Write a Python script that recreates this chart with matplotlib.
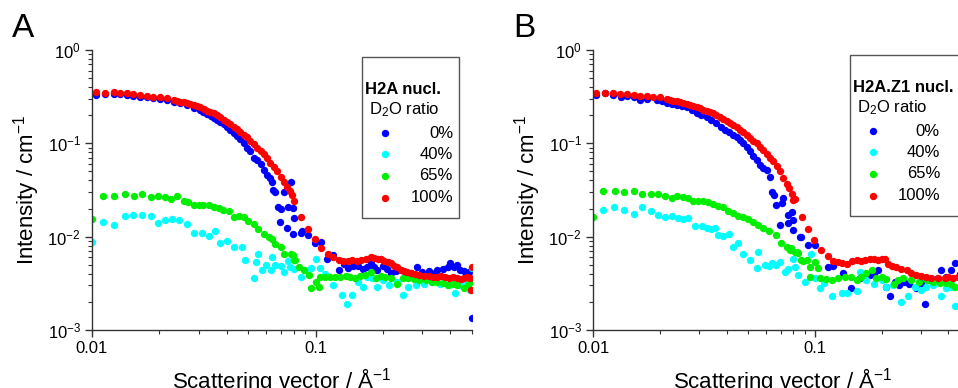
import numpy as np
import matplotlib
matplotlib.use('Agg')
import matplotlib.pyplot as plt
from matplotlib.patches import Rectangle
from matplotlib.ticker import FixedLocator, NullFormatter

plt.rcParams['font.family'] = ['Liberation Sans', 'DejaVu Sans']
plt.rcParams['mathtext.fontset'] = 'custom'
plt.rcParams['mathtext.rm'] = 'Liberation Sans'
plt.rcParams['mathtext.it'] = 'Liberation Sans:italic'
plt.rcParams['mathtext.bf'] = 'Liberation Sans:bold'

# ---- panel A : H2A nucleosome ----
qa_0 = [0.0104, 0.0114, 0.0125, 0.0134, 0.0144, 0.0153, 0.0164, 0.0176, 0.0188, 0.0202, 0.0216, 0.0232, 0.0248, 0.0266,
        0.0285, 0.0305, 0.0315, 0.0327, 0.0340, 0.0350, 0.0362, 0.0375, 0.0388, 0.0401, 0.0415, 0.0430, 0.0446, 0.0460,
        0.0476, 0.0494, 0.0510, 0.0529, 0.0548, 0.0567, 0.0585, 0.0607, 0.0625, 0.0640, 0.0645, 0.0660, 0.0680, 0.0690,
        0.0700, 0.0720, 0.0746, 0.0750, 0.0775, 0.0790, 0.0790, 0.0800, 0.0860, 0.0870, 0.0920, 0.0990, 0.1060, 0.1120,
        0.1200, 0.1270, 0.1340, 0.1400, 0.1470, 0.1540, 0.1620, 0.1700, 0.1760, 0.1830, 0.1890, 0.2000, 0.2080, 0.2170,
        0.2280, 0.2400, 0.2530, 0.2670, 0.2850, 0.3000, 0.3200, 0.3400, 0.3500, 0.3700, 0.3900, 0.4000, 0.4150, 0.4300,
        0.4400, 0.4600, 0.4700, 0.4850, 0.5000]
ia_0 = [0.329, 0.338, 0.338, 0.335, 0.333, 0.318, 0.313, 0.311, 0.305, 0.298, 0.290, 0.280, 0.268, 0.255,
        0.240, 0.225, 0.215, 0.205, 0.195, 0.188, 0.178, 0.170, 0.160, 0.148, 0.140, 0.130, 0.121, 0.112,
        0.100, 0.090, 0.082, 0.070, 0.066, 0.060, 0.052, 0.046, 0.042, 0.039, 0.032, 0.030, 0.021, 0.0142,
        0.020, 0.030, 0.0123, 0.021, 0.039, 0.0108, 0.0205, 0.016, 0.011, 0.0114, 0.0104, 0.0085, 0.0088, 0.0057,
        0.0064, 0.0044, 0.0051, 0.0046, 0.0049, 0.0049, 0.0045, 0.0047, 0.0052, 0.0047, 0.0044, 0.0049, 0.0045, 0.0041,
        0.0043, 0.0044, 0.0040, 0.0041, 0.0047, 0.0042, 0.0043, 0.0041, 0.0044, 0.0045, 0.0047, 0.0052, 0.0047, 0.0050,
        0.0044, 0.0043, 0.0039, 0.0042, 0.00133]

qa_40 = [0.0100, 0.0112, 0.0125, 0.0140, 0.0153, 0.0168, 0.0183, 0.0198, 0.0212, 0.0228, 0.0244, 0.0266, 0.0285, 0.0310,
         0.0332, 0.0356, 0.0375, 0.0400, 0.0430, 0.0468, 0.0485, 0.0530, 0.0540, 0.0555, 0.0576, 0.0600, 0.0630, 0.0640,
         0.0660, 0.0700, 0.0720, 0.0750, 0.0770, 0.0800, 0.0860, 0.0900, 0.0950, 0.1000, 0.1050, 0.1100, 0.1190, 0.1310,
         0.1380, 0.1460, 0.1550, 0.1620, 0.1700, 0.1780, 0.1890, 0.2000, 0.2130, 0.2300, 0.2450, 0.2600, 0.2800, 0.3050,
         0.3300, 0.3600, 0.3900, 0.4200, 0.4400, 0.4600, 0.4900, 0.5000]
ia_40 = [0.0088, 0.0144, 0.0132, 0.0165, 0.0170, 0.0172, 0.0167, 0.0139, 0.0151, 0.0153, 0.0151, 0.0136, 0.0110, 0.0110,
         0.0102, 0.0114, 0.0085, 0.0090, 0.0078, 0.0078, 0.0056, 0.0036, 0.0054, 0.0066, 0.0044, 0.0050, 0.0044, 0.0061,
         0.0050, 0.0048, 0.0042, 0.0055, 0.0047, 0.0045, 0.0037, 0.0044, 0.0046, 0.0058, 0.0046, 0.0040, 0.0030, 0.0024,
         0.0019, 0.0024, 0.0033, 0.0029, 0.0037, 0.0036, 0.0029, 0.0034, 0.0030, 0.0033, 0.0024, 0.0029, 0.0030, 0.0031,
         0.0033, 0.0031, 0.0030, 0.0025, 0.0030, 0.0031, 0.0027, 0.0046]

qa_65 = [0.0100, 0.0112, 0.0125, 0.0140, 0.0154, 0.0168, 0.0183, 0.0198, 0.0212, 0.0226, 0.0241, 0.0257, 0.0270, 0.0285,
         0.0300, 0.0315, 0.0332, 0.0350, 0.0368, 0.0387, 0.0408, 0.0430, 0.0452, 0.0476, 0.0500, 0.0529, 0.0555, 0.0585,
         0.0616, 0.0640, 0.0660, 0.0697, 0.0720, 0.0775, 0.0790, 0.0800, 0.0810, 0.0840, 0.0885, 0.0930, 0.0950, 0.1000,
         0.1030, 0.1050, 0.1100, 0.1160, 0.1220, 0.1290, 0.1360, 0.1430, 0.1500, 0.1580, 0.1660, 0.1760, 0.1860, 0.1950,
         0.2050, 0.2170, 0.2300, 0.2450, 0.2600, 0.2750, 0.2900, 0.3100, 0.3300, 0.3500, 0.3700, 0.3900, 0.4100, 0.4300,
         0.4600, 0.4800, 0.4900]
ia_65 = [0.0153, 0.0275, 0.0270, 0.0290, 0.0275, 0.0290, 0.0265, 0.0275, 0.0265, 0.0253, 0.0270, 0.0243, 0.0237, 0.0216,
         0.0220, 0.0220, 0.0216, 0.0207, 0.0205, 0.0193, 0.0187, 0.0164, 0.0166, 0.0162, 0.0149, 0.0137, 0.0122, 0.0108,
         0.0100, 0.0094, 0.0083, 0.0078, 0.0066, 0.0065, 0.0064, 0.0056, 0.0056, 0.0047, 0.0044, 0.0039, 0.0028, 0.0033,
         0.0029, 0.0037, 0.0037, 0.0037, 0.0037, 0.0037, 0.0038, 0.0037, 0.0036, 0.0038, 0.0039, 0.0042, 0.0036, 0.0038,
         0.0037, 0.0036, 0.0031, 0.0036, 0.0036, 0.0035, 0.0034, 0.0034, 0.0033, 0.0033, 0.0032, 0.0030, 0.0031, 0.0030,
         0.0028, 0.0030, 0.0033]

qa_100 = [0.0104, 0.0114, 0.0125, 0.0134, 0.0144, 0.0153, 0.0164, 0.0176, 0.0188, 0.0202, 0.0216, 0.0232, 0.0240, 0.0248,
          0.0257, 0.0266, 0.0275, 0.0285, 0.0295, 0.0305, 0.0316, 0.0327, 0.0338, 0.0350, 0.0362, 0.0375, 0.0388, 0.0401,
          0.0415, 0.0430, 0.0445, 0.0460, 0.0477, 0.0494, 0.0511, 0.0529, 0.0548, 0.0567, 0.0587, 0.0607, 0.0628, 0.0650,
          0.0673, 0.0697, 0.0720, 0.0746, 0.0765, 0.0787, 0.0800, 0.0862, 0.0920, 0.0990, 0.1060, 0.1130, 0.1200, 0.1270,
          0.1330, 0.1400, 0.1460, 0.1530, 0.1600, 0.1680, 0.1760, 0.1830, 0.1900, 0.1950, 0.2030, 0.2100, 0.2170, 0.2240,
          0.2320, 0.2400, 0.2480, 0.2570, 0.2670, 0.2770, 0.2900, 0.3050, 0.3200, 0.3350, 0.3500, 0.3650, 0.3800, 0.3950,
          0.4100, 0.4300, 0.4450, 0.4600, 0.4750, 0.4900, 0.4950, 0.5000]
ia_100 = [0.357, 0.348, 0.352, 0.343, 0.343, 0.335, 0.327, 0.322, 0.316, 0.311, 0.304, 0.291, 0.285, 0.280,
          0.276, 0.272, 0.265, 0.257, 0.250, 0.243, 0.234, 0.224, 0.217, 0.210, 0.200, 0.190, 0.180, 0.170,
          0.160, 0.150, 0.141, 0.133, 0.124, 0.116, 0.107, 0.098, 0.090, 0.083, 0.076, 0.069, 0.062, 0.056,
          0.050, 0.044, 0.039, 0.034, 0.031, 0.028, 0.024, 0.0164, 0.0122, 0.0094, 0.0075, 0.0065, 0.0060, 0.0056,
          0.0055, 0.0055, 0.0056, 0.0055, 0.0056, 0.0058, 0.0060, 0.0059, 0.0058, 0.0057, 0.0055, 0.0053, 0.0052, 0.0049,
          0.0047, 0.0044, 0.0043, 0.0042, 0.0041, 0.0040, 0.0039, 0.0038, 0.0038, 0.0037, 0.0037, 0.0038, 0.0037, 0.0036,
          0.0037, 0.0036, 0.0035, 0.0036, 0.0037, 0.0036, 0.0027, 0.0047]

# ---- panel B : H2A.Z1 nucleosome ----
qb_0 = [0.0103, 0.0113, 0.0123, 0.0134, 0.0143, 0.0153, 0.0163, 0.0175, 0.0194, 0.0205, 0.0215, 0.0226, 0.0238, 0.0251,
        0.0264, 0.0278, 0.0293, 0.0308, 0.0325, 0.0342, 0.0360, 0.0376, 0.0393, 0.0411, 0.0429, 0.0445, 0.0460, 0.0476,
        0.0493, 0.0510, 0.0527, 0.0546, 0.0565, 0.0585, 0.0606, 0.0630, 0.0640, 0.0655, 0.0670, 0.0696, 0.0710, 0.0718,
        0.0757, 0.0760, 0.0785, 0.0800, 0.0800, 0.0857, 0.0870, 0.0935, 0.1000, 0.1140, 0.1210, 0.1340, 0.1460, 0.1590,
        0.1680, 0.1770, 0.1850, 0.1920, 0.2090, 0.2180, 0.2290, 0.2400, 0.2520, 0.2650, 0.2860, 0.3000, 0.3130, 0.3300,
        0.3500, 0.3700, 0.3900, 0.4100, 0.4300, 0.4500, 0.4800]
ib_0 = [0.329, 0.343, 0.330, 0.316, 0.320, 0.312, 0.291, 0.300, 0.293, 0.285, 0.273, 0.265, 0.257, 0.250,
        0.243, 0.228, 0.213, 0.202, 0.190, 0.177, 0.164, 0.151, 0.139, 0.131, 0.123, 0.116, 0.109, 0.100,
        0.092, 0.082, 0.073, 0.066, 0.059, 0.055, 0.052, 0.044, 0.030, 0.028, 0.0219, 0.0133, 0.0227, 0.0257,
        0.0170, 0.0140, 0.0185, 0.0151, 0.0118, 0.0100, 0.0100, 0.0082, 0.0081, 0.0047, 0.0048, 0.0041, 0.0028, 0.0036,
        0.0038, 0.0039, 0.0040, 0.0044, 0.0029, 0.0023, 0.0033, 0.0030, 0.0033, 0.0031, 0.0028, 0.0032, 0.0019, 0.0034,
        0.0035, 0.0044, 0.0037, 0.0044, 0.0052, 0.0040, 0.0038]

qb_40 = [0.0111, 0.0124, 0.0138, 0.0153, 0.0167, 0.0182, 0.0197, 0.0211, 0.0226, 0.0242, 0.0255, 0.0269, 0.0288, 0.0309,
         0.0325, 0.0340, 0.0354, 0.0366, 0.0385, 0.0412, 0.0426, 0.0451, 0.0475, 0.0510, 0.0546, 0.0555, 0.0595, 0.0620,
         0.0640, 0.0670, 0.0696, 0.0730, 0.0760, 0.0800, 0.0810, 0.0840, 0.0900, 0.0965, 0.1000, 0.1050, 0.1100, 0.1190,
         0.1320, 0.1390, 0.1540, 0.1590, 0.1700, 0.1850, 0.2000, 0.2090, 0.2250, 0.2450, 0.2620, 0.2830, 0.3000, 0.3170,
         0.3400, 0.3700, 0.3900, 0.4100, 0.4300]
ib_40 = [0.0195, 0.0207, 0.0193, 0.0177, 0.0208, 0.0187, 0.0170, 0.0164, 0.0166, 0.0157, 0.0155, 0.0157, 0.0130, 0.0130,
         0.0123, 0.0120, 0.0123, 0.0104, 0.0102, 0.0107, 0.0078, 0.0085, 0.0066, 0.0056, 0.0046, 0.0069, 0.0050, 0.0048,
         0.0052, 0.0050, 0.0054, 0.0042, 0.0045, 0.0058, 0.0047, 0.0039, 0.0033, 0.0066, 0.0036, 0.0028, 0.0032, 0.0023,
         0.0025, 0.0025, 0.0026, 0.0042, 0.0034, 0.0031, 0.0034, 0.0029, 0.0030, 0.0020, 0.0023, 0.0029, 0.0027, 0.0029,
         0.0030, 0.0023, 0.0028, 0.0029, 0.0018]

qb_65 = [0.0100, 0.0111, 0.0125, 0.0138, 0.0153, 0.0167, 0.0182, 0.0197, 0.0211, 0.0226, 0.0239, 0.0255, 0.0269, 0.0283,
         0.0298, 0.0313, 0.0330, 0.0348, 0.0366, 0.0385, 0.0406, 0.0429, 0.0451, 0.0475, 0.0500, 0.0527, 0.0555, 0.0584,
         0.0624, 0.0670, 0.0707, 0.0745, 0.0770, 0.0780, 0.0810, 0.0830, 0.0840, 0.0870, 0.0880, 0.0920, 0.0950, 0.0950,
         0.1000, 0.1030, 0.1050, 0.1120, 0.1200, 0.1270, 0.1360, 0.1460, 0.1540, 0.1620, 0.1700, 0.1800, 0.1890, 0.2000,
         0.2100, 0.2270, 0.2370, 0.2500, 0.2700, 0.2960, 0.3200, 0.3400, 0.3650, 0.3900, 0.4100, 0.4300]
ib_65 = [0.0164, 0.0310, 0.0310, 0.0300, 0.0310, 0.0284, 0.0284, 0.0290, 0.0270, 0.0258, 0.0275, 0.0265, 0.0260, 0.0243,
         0.0243, 0.0240, 0.0233, 0.0223, 0.0213, 0.0210, 0.0188, 0.0180, 0.0166, 0.0162, 0.0155, 0.0142, 0.0133, 0.0123,
         0.0114, 0.0104, 0.0085, 0.0078, 0.0072, 0.0075, 0.0069, 0.0069, 0.0067, 0.0056, 0.0055, 0.0056, 0.0047, 0.0037,
         0.0054, 0.0046, 0.0036, 0.0035, 0.0034, 0.0036, 0.0037, 0.0037, 0.0034, 0.0037, 0.0041, 0.0044, 0.0036, 0.0037,
         0.0035, 0.0031, 0.0034, 0.0036, 0.0034, 0.0033, 0.0034, 0.0033, 0.0032, 0.0032, 0.0031, 0.0029]

qb_100 = [0.0103, 0.0113, 0.0123, 0.0133, 0.0143, 0.0153, 0.0163, 0.0175, 0.0187, 0.0200, 0.0215, 0.0222, 0.0230, 0.0238,
          0.0247, 0.0255, 0.0264, 0.0273, 0.0283, 0.0293, 0.0303, 0.0314, 0.0325, 0.0336, 0.0348, 0.0360, 0.0373, 0.0386,
          0.0400, 0.0414, 0.0429, 0.0444, 0.0460, 0.0476, 0.0493, 0.0510, 0.0527, 0.0546, 0.0565, 0.0585, 0.0606, 0.0628,
          0.0650, 0.0673, 0.0696, 0.0720, 0.0746, 0.0768, 0.0790, 0.0800, 0.0815, 0.0873, 0.0935, 0.0990, 0.1070, 0.1140,
          0.1210, 0.1270, 0.1330, 0.1390, 0.1470, 0.1540, 0.1610, 0.1690, 0.1770, 0.1850, 0.1920, 0.2000, 0.2070, 0.2140,
          0.2230, 0.2330, 0.2450, 0.2590, 0.2720, 0.2860, 0.3000, 0.3170, 0.3350, 0.3600, 0.3850, 0.4000, 0.4200, 0.4400]
ib_100 = [0.348, 0.343, 0.343, 0.338, 0.335, 0.329, 0.324, 0.322, 0.316, 0.311, 0.298, 0.293, 0.287, 0.281,
          0.275, 0.270, 0.264, 0.257, 0.250, 0.244, 0.237, 0.230, 0.222, 0.216, 0.210, 0.202, 0.193, 0.184,
          0.175, 0.166, 0.157, 0.148, 0.139, 0.131, 0.123, 0.115, 0.107, 0.100, 0.092, 0.084, 0.077, 0.070,
          0.064, 0.057, 0.050, 0.043, 0.037, 0.033, 0.029, 0.0248, 0.0255, 0.0164, 0.0120, 0.0092, 0.0072, 0.0062,
          0.0055, 0.0054, 0.0052, 0.0051, 0.0055, 0.0056, 0.0055, 0.0056, 0.0057, 0.0057, 0.0056, 0.0057, 0.0058, 0.0051,
          0.0049, 0.0047, 0.0045, 0.0044, 0.0041, 0.0039, 0.0038, 0.0037, 0.0036, 0.0036, 0.0036, 0.0037, 0.0036, 0.0037]

ratio_labels = ['0%', '40%', '65%', '100%']
colors = ['#0000ff', '#00ffff', '#00ee00', '#ff0000']

W, H = 958, 388


def fx(x):
    return x / W


def fy(y):
    return 1 - y / H


def make_panel(fig, left_px, width_px, series, letter, title, leg):
    ax = fig.add_axes([fx(left_px), fy(330), width_px / W, 280 / H])
    for (q, i), c in zip(series, colors):
        ax.plot(q, i, 'o', color=c, markersize=5.3, markeredgewidth=0, linestyle='none')
    ax.set_xscale('log')
    ax.set_yscale('log')
    ax.set_xlim(0.01, 0.5)
    ax.set_ylim(1e-3, 1)
    ax.spines['top'].set_visible(False)
    ax.spines['right'].set_visible(False)
    for s in ['left', 'bottom']:
        ax.spines[s].set_color('#333333')
        ax.spines[s].set_linewidth(1.0)
    ax.xaxis.set_major_locator(FixedLocator([0.01, 0.1]))
    ax.set_xticklabels(['0.01', '0.1'])
    ax.xaxis.set_minor_locator(FixedLocator([0.02, 0.03, 0.04, 0.05, 0.06, 0.07, 0.08, 0.09, 0.2, 0.3, 0.4, 0.5]))
    ax.xaxis.set_minor_formatter(NullFormatter())
    ax.yaxis.set_major_locator(FixedLocator([1e-3, 1e-2, 1e-1, 1]))
    ax.set_yticklabels([r'$10^{-3}$', r'$10^{-2}$', r'$10^{-1}$', r'$10^{0}$'])
    yminor = [m * 10.0 ** e for e in (-3, -2, -1) for m in range(2, 10)]
    ax.yaxis.set_minor_locator(FixedLocator(yminor))
    ax.yaxis.set_minor_formatter(NullFormatter())
    ax.tick_params(which='major', direction='out', length=5, width=1, color='#333333', labelsize=12, pad=3)
    ax.tick_params(which='minor', direction='out', length=3, width=0.8, color='#333333')
    ax.set_ylabel(r'Intensity / cm$^{-1}$', fontsize=16, labelpad=4)

    fig.text(fx(left_px + 190), fy(366), r'Scattering vector / Å$^{-1}$', fontsize=16, ha='center', va='top')
    fig.text(fx(left_px - 80), fy(13), letter, fontsize=24, ha='left', va='top')

    # legend box drawn by hand (right aligned labels)
    bx0, by0, bx1, by1 = leg['box']
    fig.patches.append(Rectangle((fx(bx0), fy(by1)), (bx1 - bx0) / W, (by1 - by0) / H,
                                 transform=fig.transFigure, facecolor='white', edgecolor='#555555',
                                 linewidth=1.0, zorder=5))
    fig.text(fx(leg['tx']), fy(leg['ty']), title, fontsize=12, fontweight='bold', ha='left', va='center', zorder=6)
    fig.text(fx(leg['tx'] + 4), fy(leg['ty'] + 21), r'D$_2$O ratio', fontsize=12, ha='left', va='center', zorder=6)
    for k, (lab, c) in enumerate(zip(ratio_labels, colors)):
        yy = leg['my'] + k * 21.5
        fig.add_artist(plt.Line2D([fx(leg['mx'])], [fy(yy)], marker='o', color=c, markersize=5.3,
                                  markeredgewidth=0, linestyle='none', transform=fig.transFigure, zorder=6))
        fig.text(fx(leg['lx']), fy(yy), lab, fontsize=12, ha='right', va='center', zorder=6)
    return ax


fig = plt.figure(figsize=(W / 100, H / 100), dpi=100)

series_a = [(qa_0, ia_0), (qa_40, ia_40), (qa_65, ia_65), (qa_100, ia_100)]
series_b = [(qb_0, ib_0), (qb_40, ib_40), (qb_65, ib_65), (qb_100, ib_100)]

make_panel(fig, 92, 380, series_a, 'A', 'H2A nucl.',
           dict(box=(362, 57, 459, 218), tx=365, ty=89, mx=385, my=133, lx=453))
make_panel(fig, 593, 377, series_b, 'B', 'H2A.Z1 nucl.',
           dict(box=(850, 55, 975, 216), tx=853, ty=87, mx=873, my=131, lx=940))

fig.savefig('out.png', dpi=100)
